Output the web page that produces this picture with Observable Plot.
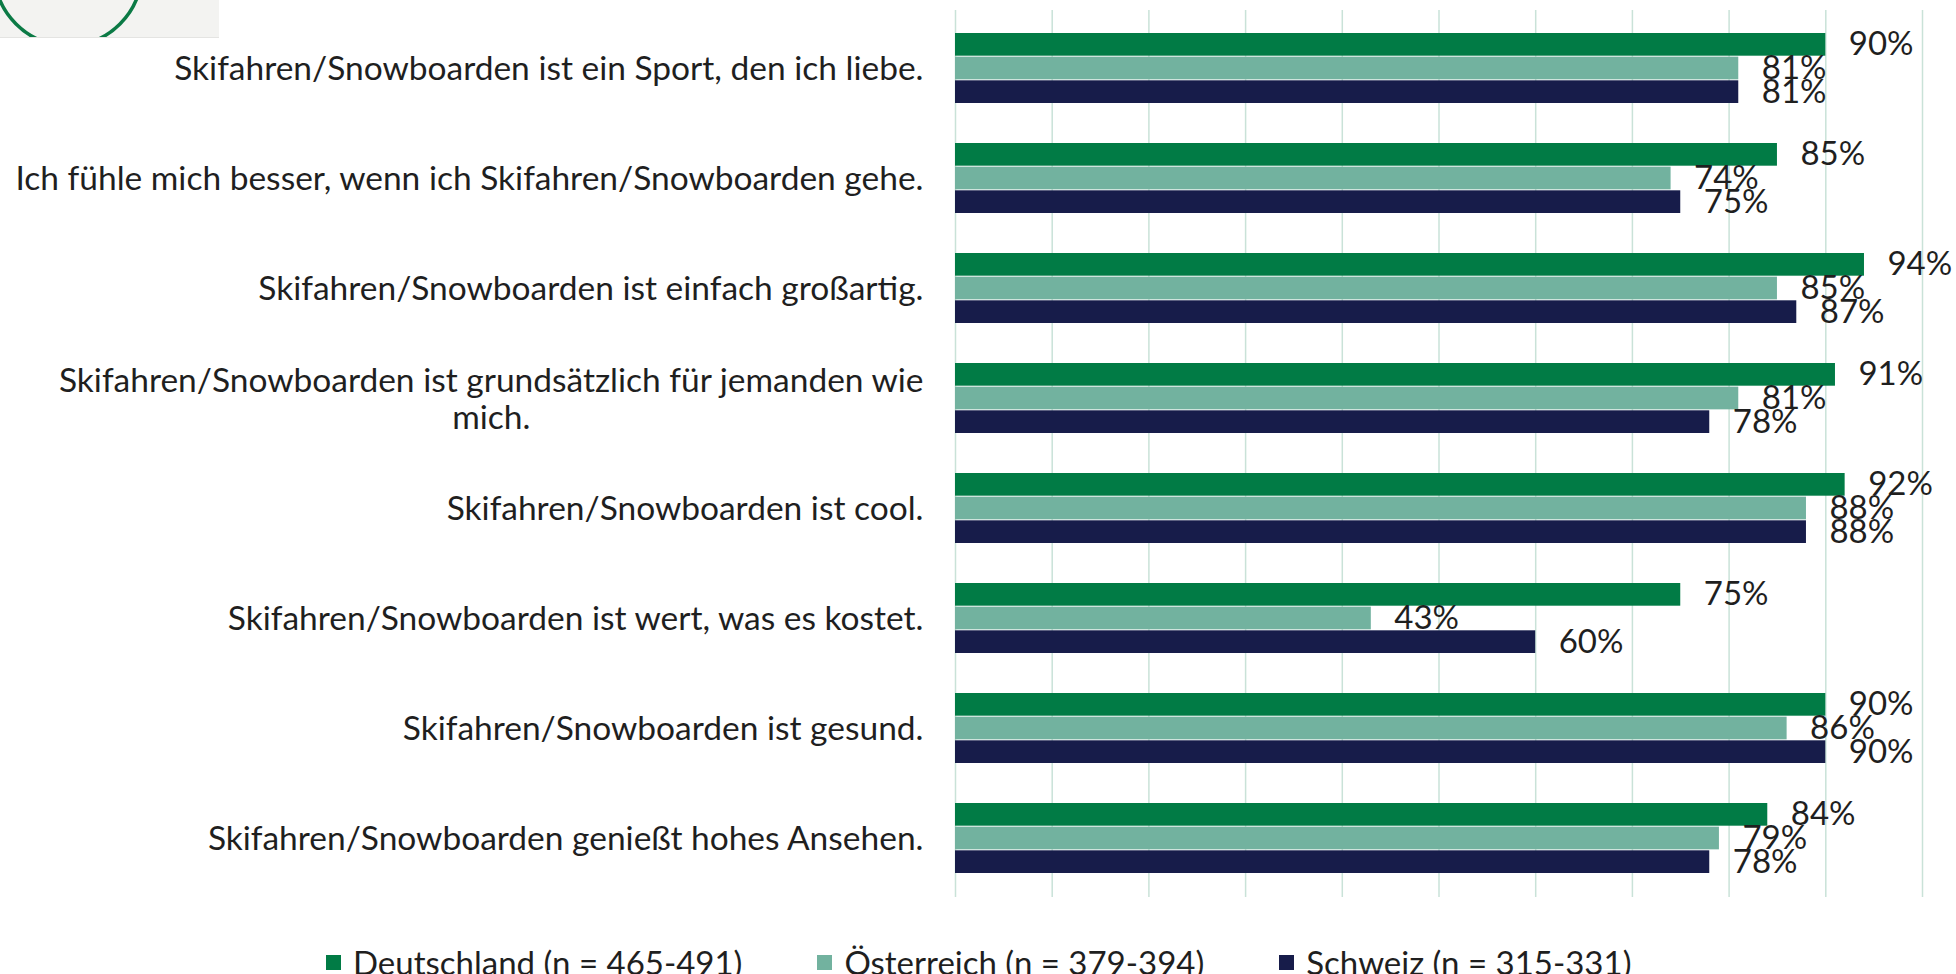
<!DOCTYPE html>
<html>
<head>
<meta charset="utf-8">
<script src="https://cdn.jsdelivr.net/npm/d3@7"></script>
<script src="https://cdn.jsdelivr.net/npm/@observablehq/plot@0.6"></script>
<style>
  html, body { margin: 0; padding: 0; background: #ffffff; }
  body { font-family: Lato, "Open Sans", sans-serif; }
  #wrap { position: relative; width: 1956px; height: 974px; overflow: hidden; }
  #chart { position: absolute; left: 0; top: 0; }
  #logo { position: absolute; left: 0; top: 0; }
  #legend { position: absolute; left: 326px; top: 943px; display: flex; gap: 75px; font-size: 33px; line-height: 38px; color: #1f1f1f; white-space: nowrap; }
  #legend .item { display: flex; align-items: center; }
  #legend .sw { width: 15px; height: 15px; margin-right: 12px; display: inline-block; }
</style>
</head>
<body>
<div id="wrap">
  <div id="chart"></div>
  <svg id="logo" width="220" height="40" viewBox="0 0 220 40">
    <defs><clipPath id="lc"><rect x="0" y="0" width="219" height="37"></rect></clipPath></defs>
    <rect x="0" y="0" width="219" height="37" fill="#F3F3F1"></rect>
    <line x1="0" x2="219" y1="37.5" y2="37.5" stroke="#E4E4E2" stroke-width="1"></line>
    <circle cx="68" cy="-28" r="73.5" fill="none" stroke="#0B7A45" stroke-width="3.5" clip-path="url(#lc)"></circle>
  </svg>
  <div id="legend"></div>
</div>
<script>
// ---- data ----
const statements = [
  "Skifahren/Snowboarden ist ein Sport, den ich liebe.",
  "Ich fühle mich besser, wenn ich Skifahren/Snowboarden gehe.",
  "Skifahren/Snowboarden ist einfach großartig.",
  "Skifahren/Snowboarden ist grundsätzlich für jemanden wie\nmich.",
  "Skifahren/Snowboarden ist cool.",
  "Skifahren/Snowboarden ist wert, was es kostet.",
  "Skifahren/Snowboarden ist gesund.",
  "Skifahren/Snowboarden genießt hohes Ansehen."
];
const countries = ["Deutschland (n = 465-491)", "Österreich (n = 379-394)", "Schweiz (n = 315-331)"];
const deutschland = [90, 85, 94, 91, 92, 75, 90, 84];
const oesterreich = [81, 74, 85, 81, 88, 43, 86, 79];
const schweiz     = [81, 75, 87, 78, 88, 60, 90, 78];
const gridTicks = [0, 10, 20, 30, 40, 50, 60, 70, 80, 90, 100];
const colors = ["#017B45", "#72B29F", "#171C4A"];

// ---- build table ----
const series = [deutschland, oesterreich, schweiz];
const rows = [];
statements.forEach((s, i) => {
  series.forEach((arr, k) => rows.push({statement: s, country: countries[k], k, value: arr[i]}));
});

// ---- layout ----
const W = 1956, H = 900, MT = 10, MB = 3, ML = 955, MR = 34;
const padIn = 0.36, padOut = 0.18;
const step = (H - MT - MB) / (statements.length - padIn + 2 * padOut);
const bw = step * (1 - padIn);
const third = bw / 3;

const barMarks = series.map((_, k) =>
  Plot.barX(rows.filter(d => d.k === k), {
    x: "value", y: "statement", fill: colors[k],
    insetTop: k * third, insetBottom: (2 - k) * third
  })
);
const textMarks = series.map((_, k) =>
  Plot.text(rows.filter(d => d.k === k), {
    x: "value", y: "statement", text: d => d.value + "%",
    dy: (k - 1) * third, dx: 23, textAnchor: "start",
    fontSize: 33, fill: "#1f1f1f", fontFamily: "Lato"
  })
);

const chart = Plot.plot({
  width: W, height: H,
  marginTop: MT, marginBottom: MB, marginLeft: ML, marginRight: MR,
  style: {fontFamily: "Lato, sans-serif", background: "transparent", overflow: "visible"},
  x: {domain: [0, 100], axis: null},
  y: {domain: statements, paddingInner: padIn, paddingOuter: padOut, axis: null},
  marks: [
    Plot.gridX(gridTicks, {stroke: "#C9E2D8", strokeOpacity: 1, strokeWidth: 1.5}),
    ...barMarks,
    ...textMarks,
    Plot.axisY({tickSize: 0, tickPadding: 32, fontSize: 33.5, lineHeight: 1.1, fill: "#1f1f1f", textAnchor: "end", label: null})
  ]
});
document.getElementById("chart").append(chart);

// center the second line of wrapped category labels under the first
chart.querySelectorAll("text").forEach(t => {
  const ts = t.querySelectorAll("tspan");
  if (ts.length === 2) {
    const w1 = ts[0].getComputedTextLength();
    const w2 = ts[1].getComputedTextLength();
    const x0 = +(ts[1].getAttribute("x") || 0);
    ts[1].setAttribute("x", x0 - (w1 - w2) / 2);
  }
});

// legend
const leg = document.getElementById("legend");
countries.forEach((c, k) => {
  const it = document.createElement("div");
  it.className = "item";
  const sw = document.createElement("span");
  sw.className = "sw";
  sw.style.background = colors[k];
  const tx = document.createElement("span");
  tx.textContent = c;
  it.append(sw, tx);
  leg.append(it);
});
</script>
</body>
</html>
